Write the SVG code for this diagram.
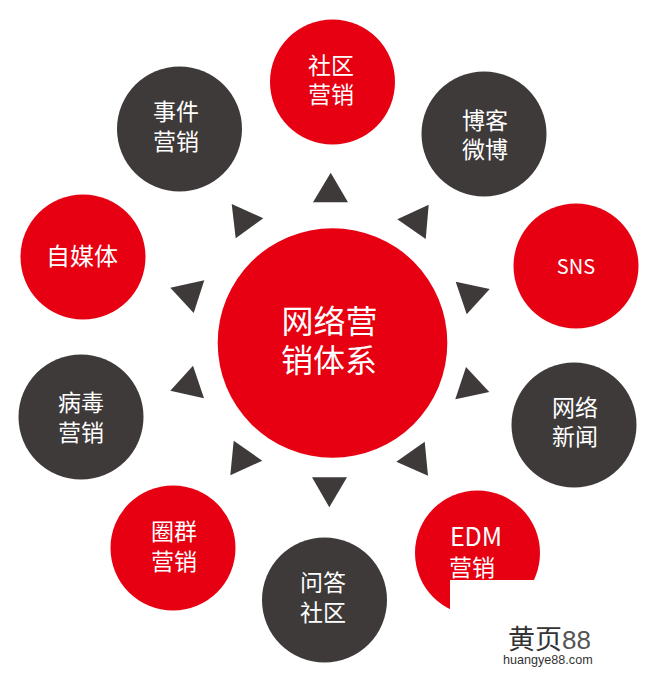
<svg xmlns="http://www.w3.org/2000/svg" width="650" height="680" viewBox="0 0 650 680">
<style>
.r{fill:#e60012}.d{fill:#3e3a39}
text{font-family:"Noto Sans CJK SC","Liberation Sans",sans-serif;fill:#fff;font-size:23px;text-anchor:middle}
.c{font-size:32px}
.wm{fill:#333;text-anchor:start}
</style>
<rect width="650" height="680" fill="#fff"/>
<g id="connectors" class="d">
<polygon points="330.7,172.7 313,202.3 348,202.3"/>
<polygon points="231.7,204 263.3,218.3 235.7,238.3"/>
<polygon points="428.7,204.7 397.3,219.3 425.7,239"/>
<polygon points="455.7,281.7 489.7,289 466.7,314.3"/>
<polygon points="466,367 489.3,392 455.3,399.3"/>
<polygon points="424.7,441.7 396.3,461.7 428,475.7"/>
<polygon points="312,477.3 347,477.3 329.3,507.3"/>
<polygon points="233.7,440.7 262.3,460.7 230.3,475.3"/>
<polygon points="193,365.7 204,398.3 170.3,390.7"/>
<polygon points="204.3,280.3 193.7,313 170.3,287.7"/>
</g>
<g id="center"><circle class="r" cx="332.5" cy="343" r="114.8"/><text class="c" x="329.5" y="333">网络营</text><text class="c" x="329" y="372">销体系</text></g>
<g id="n1"><circle class="r" cx="332.5" cy="82" r="62.5"/><text x="331" y="74">社区</text><text x="331" y="103">营销</text></g>
<g id="n2"><circle class="d" cx="484" cy="134" r="62.5"/><text x="485" y="129">博客</text><text x="485" y="158">微博</text></g>
<g id="n3"><circle class="r" cx="576" cy="266" r="62.5"/><text x="576" y="274" style="font-size:20px">SNS</text></g>
<g id="n4"><circle class="d" cx="574" cy="425" r="62.5"/><text x="575" y="416">网络</text><text x="575" y="445">新闻</text></g>
<g id="n5"><circle class="r" cx="477.5" cy="553" r="62.5"/><text x="476" y="546" style="font-size:25px">EDM</text><text x="472" y="576">营销</text></g>
<g id="n6"><circle class="d" cx="324.5" cy="600" r="62.5"/><text x="323" y="591">问答</text><text x="323" y="621">社区</text></g>
<g id="n7"><circle class="r" cx="173" cy="548" r="62.5"/><text x="174" y="540">圈群</text><text x="174" y="570">营销</text></g>
<g id="n8"><circle class="d" cx="81" cy="417" r="62.5"/><text x="81" y="411">病毒</text><text x="81" y="441">营销</text></g>
<g id="n9"><circle class="r" cx="83" cy="257" r="62.5"/><text x="82" y="265" style="font-size:24px">自媒体</text></g>
<g id="n10"><circle class="d" cx="179.5" cy="129" r="62.5"/><text x="176" y="120">事件</text><text x="176" y="150">营销</text></g>
<g id="watermark">
<rect x="450" y="580" width="200" height="100" fill="#fff"/>
<text class="wm" x="508" y="649" style="font-size:27px;text-anchor:start">黄页<tspan style="font-size:26px;fill:#555;font-family:'Liberation Sans',sans-serif">88</tspan></text>
<text class="wm" x="503" y="664" style="font-size:12.6px;font-family:'Liberation Sans',sans-serif">huangye88.com</text>
</g>
</svg>
